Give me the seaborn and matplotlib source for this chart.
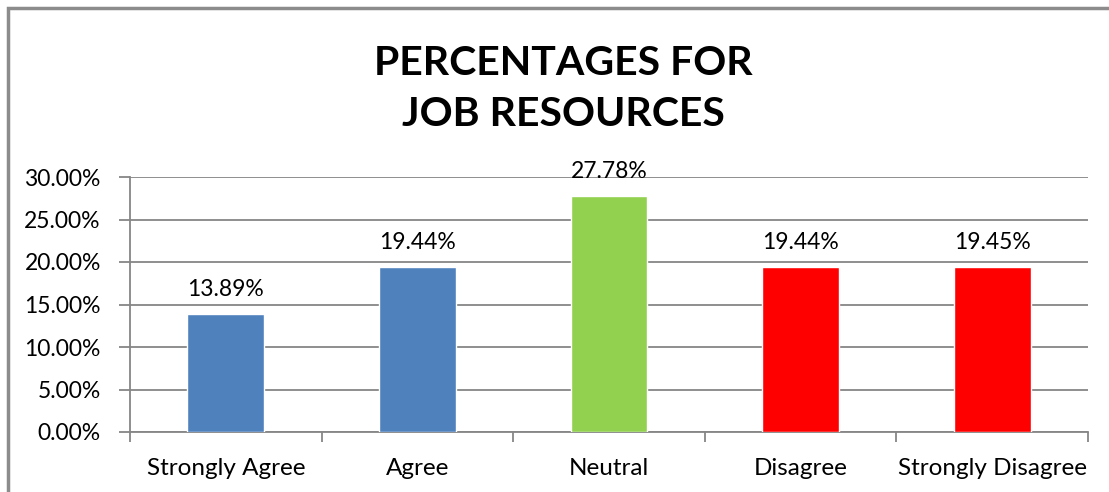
import matplotlib
matplotlib.use("Agg")
import matplotlib.pyplot as plt
import seaborn as sns
import pandas as pd
from matplotlib.ticker import FuncFormatter, FixedLocator

categories = ["Strongly Agree", "Agree", "Neutral", "Disagree", "Strongly Disagree"]
percentages = [13.89, 19.44, 27.78, 19.44, 19.45]
bar_colors = ["#4F81BD", "#4F81BD", "#92D050", "#FF0000", "#FF0000"]
y_ticks = [0, 5, 10, 15, 20, 25, 30]

sns.set_theme(style="white")
plt.rcParams["font.family"] = ["Lato", "DejaVu Sans"]
plt.rcParams["text.color"] = "black"

df = pd.DataFrame({"Response": categories, "Percent": percentages})

fig = plt.figure(figsize=(11.09, 4.92), dpi=100)
ax = fig.add_axes([130 / 1109, 1 - 432 / 492, (1088 - 130) / 1109, (432 - 177) / 492])

sns.barplot(data=df, x="Response", y="Percent", hue="Response",
            palette=bar_colors, width=0.4, legend=False, ax=ax,
            saturation=1, zorder=3)

grid_col = "#868686"
fs = 16.5
ax.set_ylim(0, 30)
ax.set_xlim(-0.5, len(categories) - 0.5)
ax.set_yticks(y_ticks)
ax.yaxis.set_major_formatter(FuncFormatter(lambda v, _: f"{v:.2f}%"))
ax.grid(axis="y", color=grid_col, linewidth=1.3, zorder=0)
ax.grid(axis="x", visible=False)

for side in ["top", "right"]:
    ax.spines[side].set_visible(False)
for side in ["left", "bottom"]:
    ax.spines[side].set_color(grid_col)
    ax.spines[side].set_linewidth(1.3)

ax.tick_params(axis="y", which="major", length=8, width=1.3, color=grid_col,
               labelsize=fs, pad=13, left=True, labelcolor="black")
ax.tick_params(axis="x", which="major", length=0, labelsize=17.5, pad=19,
               labelcolor="black")
ax.xaxis.set_minor_locator(FixedLocator([i - 0.5 for i in range(len(categories) + 1)]))
ax.tick_params(axis="x", which="minor", length=7, width=1.3, color=grid_col, bottom=True)
ax.set_xlabel("")
ax.set_ylabel("")

for i, v in enumerate(percentages):
    ax.text(i, v + 2.1, f"{v:.2f}%", ha="center", va="baseline", fontsize=fs,
            color="black", zorder=4)

fig.text(0.508, 1 - 89 / 492, "PERCENTAGES FOR\nJOB RESOURCES", ha="center",
         va="center", fontsize=29.5, fontweight="bold", linespacing=1.45,
         color="black")

# figure frame
fig.patches.append(plt.Rectangle((8 / 1109, -0.05), 1.2, 1 - 8 / 492 + 0.05,
                                 transform=fig.transFigure, fill=False,
                                 edgecolor="#8C8C8C", linewidth=2.5))

fig.savefig("out.png", dpi=100)
